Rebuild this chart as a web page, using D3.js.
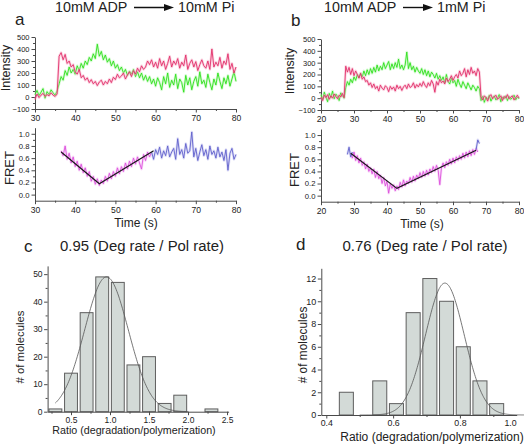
<!DOCTYPE html>
<html><head><meta charset="utf-8">
<script src="https://cdn.jsdelivr.net/npm/d3@7"></script>
<style>body{margin:0;background:#fff}svg{display:block;font-family:"Liberation Sans",Arial,sans-serif}</style>
</head><body><svg id="fig" width="524" height="446"></svg>
<script>
// ---------- DATA ----------
const step = 0.5;
// Panel a intensities, t = 30..80 s
const aStart = 30;
const aRed = [-20,25,-5,15,30,5,20,10,35,15,5,25,
340,370,310,355,280,300,250,270,210,190,230,160,
180,140,160,120,145,110,130,95,125,140,100,130,
110,150,120,165,145,190,160,175,200,150,185,210,
170,220,190,240,210,260,230,250,300,270,310,250,
290,240,320,260,300,230,280,340,250,300,270,320,
240,290,260,350,230,280,310,250,295,220,270,310,
260,240,300,230,400,250,290,260,330,240,300,270,
360,230,280,200,250];
const aGreen = [20,55,10,40,70,-10,45,20,60,35,15,50,
110,170,140,220,180,250,200,230,190,260,220,280,
240,300,270,330,300,360,320,440,340,380,310,350,
290,320,260,300,240,270,220,250,200,230,180,215,
190,230,170,210,160,200,140,180,130,170,110,150,
90,160,120,60,170,110,200,80,140,100,190,70,
150,120,40,180,100,160,60,130,170,90,210,110,
140,80,190,120,60,150,100,200,130,70,160,110,
180,90,150,210,130];
// Panel b intensities, t = 20..80 s
const bStart = 20;
const bRed = [10,-20,25,5,30,-10,20,0,35,15,-5,25,10,40,5,
270,220,260,200,250,190,230,200,170,210,160,180,140,150,110,130,
90,120,80,100,60,110,85,70,105,90,55,100,75,95,60,110,80,100,65,95,
110,80,120,90,100,130,85,115,95,125,100,140,110,90,130,105,150,120,50,140,
110,160,130,145,120,170,140,160,190,150,180,200,170,230,190,210,250,180,240,200,
260,210,230,190,250,220,
10,-15,20,5,-25,15,30,-5,10,25,-10,5,20,-20,15,0,30,-5,10,20,-15,5,25,0];
const bGreen = [30,-10,50,10,-30,40,5,60,-5,35,15,-20,45,20,0,
90,140,110,160,130,180,150,200,170,210,180,230,190,240,200,250,
210,260,220,280,230,270,240,300,250,280,310,240,290,250,300,260,330,250,280,240,
280,390,250,300,240,270,220,260,230,210,250,200,240,190,230,180,220,200,170,210,
160,190,150,180,130,200,140,120,170,130,150,100,160,120,90,140,110,80,130,100,
70,110,90,60,100,80,
-20,15,-35,10,-10,25,-25,5,20,-15,0,30,-30,10,-5,20,-20,15,-10,5,25,-15,10,-5];
// Panel a FRET
const aPinkStart = 36.5;
const aPink = [0.72,0.64,0.80,0.58,0.68,0.52,0.62,0.46,0.55,0.40,
0.50,0.36,0.44,0.30,0.38,0.22,0.30,0.17,0.26,0.15,
0.24,0.18,0.30,0.22,0.35,0.26,0.38,0.30,0.44,0.34,
0.46,0.38,0.52,0.42,0.55,0.46,0.60,0.50,0.62,0.52,
0.42,0.66,0.56,0.70,0.62,0.70];
const aBlueStart = 59;
const aBlue = [0.70,0.58,0.74,0.66,0.78,0.60,0.72,0.64,0.80,0.62,
0.70,0.76,0.58,0.92,0.66,0.74,0.60,0.84,0.68,0.72,
1.03,0.62,0.76,0.56,0.70,0.82,0.64,0.74,0.58,0.80,
0.66,0.72,0.60,0.78,0.62,0.70,0.56,0.74,0.40,0.68,
0.76,0.58,0.66];
const aFitT = [36.5, 46, 59.5];
const aFitV = [0.70, 0.18, 0.72];
// Panel b FRET
const bBlue1Start = 28;
const bBlue1 = [0.68,0.80,0.64,0.72];
const bPinkStart = 29;
const bPink = [0.70,0.62,0.72,0.58,0.66,0.54,0.62,0.50,0.56,0.44,
0.52,0.40,0.46,0.36,0.44,0.30,0.40,0.28,0.34,0.20,
0.30,0.16,0.24,0.04,0.20,0.12,0.18,0.08,0.16,0.10,
0.22,0.14,0.26,0.16,0.24,0.20,0.30,0.22,0.32,0.24,
0.34,0.28,0.38,0.30,0.40,0.32,0.42,0.34,0.44,0.38,
0.48,0.40,0.50,0.42,0.18,0.46,0.54,0.46,0.56,0.50,
0.60,0.52,0.62,0.54,0.64,0.58,0.66,0.60,0.70,0.62,
0.72,0.64,0.74,0.66,0.76,0.68,0.78,0.72];
const bBlue2Start = 67;
const bBlue2 = [0.76,0.92,0.86];
const bFitT = [29, 43, 67];
const bFitV = [0.70, 0.12, 0.75];
// Panel c histogram
const cCenters = [0.3,0.5,0.7,0.9,1.1,1.3,1.5,1.7,1.9,2.1,2.3];
const cCounts  = [1,14,36,49,47,17,20,3,6,0,1];
const cFitMean = 0.955, cFitSd = 0.28, cFitAmp = 49, cFitRange = [0.3, 2.0];
// Panel d histogram
const dCenters = [0.46,0.56,0.61,0.66,0.71,0.76,0.81,0.86,0.91];
const dCounts  = [2,3,1,9,12,10,6,3,1];
const dFitMean = 0.755, dFitSd = 0.058, dFitAmp = 11.6, dFitRange = [0.5, 1.02];
// Tick values
const intTicks = [-100,0,100,200,300,400,500];
const fretTicks = [0,0.2,0.4,0.6,0.8,1.0];
const aTimeTicks = [30,40,50,60,70,80];
const bTimeTicks = [20,30,40,50,60,70,80];
const cXTicks = [0.5,1.0,1.5,2.0,2.5];
const cYTicks = [0,10,20,30,40,50];
const dXTicks = [0.4,0.6,0.8];
const dYTicks = [0,2,4,6,8,10,12];

// ---------- HELPERS ----------
const svg = d3.select('#fig');
const AX = '#4a4a4a', TXT = '#222';
const pts = (start, arr) => arr.map((v,i)=>[start+i*step, v]);

function axes(x, y, o){
  const g = svg.append('g');
  const yb = y.range()[0], xl = x.range()[0];
  if (o.xMinor) g.append('g').attr('transform',`translate(0,${yb})`)
     .call(d3.axisBottom(x).tickValues(o.xMinor).tickSize(2).tickFormat('').tickSizeOuter(0))
     .call(s=>s.select('.domain').remove());
  if (o.yMinor) g.append('g').attr('transform',`translate(${xl},0)`)
     .call(d3.axisLeft(y).tickValues(o.yMinor).tickSize(2).tickFormat('').tickSizeOuter(0))
     .call(s=>s.select('.domain').remove());
  const gx = g.append('g').attr('transform',`translate(0,${yb})`)
     .call(d3.axisBottom(x).tickValues(o.xTicks).tickSize(3.5).tickPadding(o.xPad||2).tickSizeOuter(0).tickFormat(o.xFmt||null));
  gx.selectAll('text').style('font-size', o.xFont+'px').attr('fill',TXT);
  const gy = g.append('g').attr('transform',`translate(${xl},0)`)
     .call(d3.axisLeft(y).tickValues(o.yTicks).tickSize(3.5).tickPadding(o.yPad||2).tickSizeOuter(0).tickFormat(o.yFmt||null));
  gy.selectAll('text').style('font-size', o.yFont+'px').attr('fill',TXT);
  g.selectAll('.domain, .tick line').attr('stroke',AX);
  g.selectAll('text').attr('font-family','"Liberation Sans",Arial,sans-serif');
  return {g, gx, gy};
}
function trace(x, y, data, color, glow, w){
  const line = d3.line().x(d=>x(d[0])).y(d=>y(d[1]));
  svg.append('path').attr('d',line(data)).attr('fill','none').attr('stroke',glow).attr('stroke-width',2.6).attr('stroke-opacity',0.45).attr('stroke-linejoin','round');
  svg.append('path').attr('d',line(data)).attr('fill','none').attr('stroke',color).attr('stroke-width',w||0.9).attr('stroke-linejoin','round');
}
function text(x, y, s, size, opt={}){
  const t = svg.append('text').attr('x',x).attr('y',y).text(s)
    .attr('font-size',size).attr('fill',TXT).attr('text-anchor',opt.anchor||'middle');
  if (opt.rot) t.attr('transform',`rotate(-90,${x},${y})`);
  return t;
}
function arrowTitle(x1, x2, yy){
  svg.append('line').attr('x1',x1).attr('x2',x2-7).attr('y1',yy).attr('y2',yy).attr('stroke','#111').attr('stroke-width',1.4);
  svg.append('path').attr('d',`M${x2},${yy} L${x2-10},${yy-3.5} L${x2-10},${yy+3.5} Z`).attr('fill','#111');
}

const RED='#e2306a', REDG='#f3a0be', GRN='#2fe01c', GRNG='#a6f5a0';
const PINK='#dd50dd', PINKG='#f2b0f2', BLUE='#6060cc', BLUEG='#b8b8ee';

// ---------- PANEL a ----------
{
  const x = d3.scaleLinear().domain([30,80]).range([35,236]);
  const y = d3.scaleLinear().domain([-100,500]).range([109,37]);
  axes(x,y,{xTicks:aTimeTicks, xMinor:[35,45,55,65,75], yTicks:intTicks, yMinor:[-50,50,150,250,350,450],
            xFont:8.6, yFont:7.5, yFmt:d3.format('d'), xPad:2.5});
  trace(x,y,pts(aStart,aGreen),GRN,GRNG);
  trace(x,y,pts(aStart,aRed),RED,REDG);
  const yf = d3.scaleLinear().domain([-0.1,1.1]).range([200.7,127.7]);
  axes(x,yf,{xTicks:aTimeTicks, xMinor:[35,45,55,65,75], yTicks:fretTicks, yMinor:[0.1,0.3,0.5,0.7,0.9],
            xFont:8.6, yFont:7.7, yFmt:d3.format('.1f'), xPad:2.5});
  trace(x,yf,pts(aPinkStart,aPink),PINK,PINKG);
  trace(x,yf,pts(aBlueStart,aBlue),BLUE,BLUEG);
  svg.append('path').attr('d',d3.line().x(d=>x(d[0])).y(d=>yf(d[1]))(aFitT.map((t,i)=>[t,aFitV[i]])))
     .attr('fill','none').attr('stroke','#1a1a1a').attr('stroke-width',1.2);
  text(10,68,'Intensity',12.5,{rot:true});
  text(14,168,'FRET',13,{rot:true});
  text(136,227,'Time (s)',12);
  text(15,25,'a',17,{anchor:'start'});
  text(55,12,'10mM ADP',14.3,{anchor:'start'});
  arrowTitle(134,174,7.5);
  text(178,12,'10mM Pi',14.3,{anchor:'start'});
}
// ---------- PANEL b ----------
{
  const x = d3.scaleLinear().domain([20,80]).range([321,519]);
  const y = d3.scaleLinear().domain([-100,500]).range([110,39]);
  axes(x,y,{xTicks:bTimeTicks, xMinor:[25,35,45,55,65,75], yTicks:intTicks, yMinor:[-50,50,150,250,350,450],
            xFont:8.6, yFont:7.5, yFmt:d3.format('d'), xPad:2.5});
  trace(x,y,pts(bStart,bGreen),GRN,GRNG);
  trace(x,y,pts(bStart,bRed),RED,REDG);
  const yf = d3.scaleLinear().domain([-0.1,1.1]).range([201.7,129]);
  axes(x,yf,{xTicks:bTimeTicks, xMinor:[25,35,45,55,65,75], yTicks:fretTicks, yMinor:[0.1,0.3,0.5,0.7,0.9],
            xFont:8.6, yFont:7.7, yFmt:d3.format('.1f'), xPad:2.5});
  trace(x,yf,pts(bPinkStart,bPink),PINK,PINKG);
  trace(x,yf,pts(bBlue1Start,bBlue1),BLUE,BLUEG);
  trace(x,yf,pts(bBlue2Start,bBlue2),BLUE,BLUEG);
  svg.append('path').attr('d',d3.line().x(d=>x(d[0])).y(d=>yf(d[1]))(bFitT.map((t,i)=>[t,bFitV[i]])))
     .attr('fill','none').attr('stroke','#1a1a1a').attr('stroke-width',1.2);
  text(294,71,'Intensity',12.5,{rot:true});
  text(299,170,'FRET',13,{rot:true});
  text(422,228,'Time (s)',12);
  text(291,26,'b',17,{anchor:'start'});
  text(324,12,'10mM ADP',14.3,{anchor:'start'});
  arrowTitle(403,433,7.5);
  text(437,12,'1mM Pi',14.3,{anchor:'start'});
}
// ---------- PANEL c ----------
{
  const x = d3.scaleLinear().domain([0.2,2.52]).range([47.6,228.6]);
  const y = d3.scaleLinear().domain([0,53]).range([411.7,265.9]);
  const bw = 0.165;
  svg.append('g').selectAll('rect').data(cCenters.map((c,i)=>({c,v:cCounts[i]})).filter(d=>d.v>0)).join('rect')
    .attr('x',d=>x(d.c-bw/2)).attr('width',d=>x(d.c+bw/2)-x(d.c-bw/2))
    .attr('y',d=>y(d.v)).attr('height',d=>y(0)-y(d.v))
    .attr('fill','#d3dad7').attr('stroke','#5e5e5e').attr('stroke-width',1);
  const g = d3.range(cFitRange[0], cFitRange[1]+0.001, 0.01).map(v=>[v, cFitAmp*Math.exp(-((v-cFitMean)**2)/(2*cFitSd*cFitSd))]);
  svg.append('path').attr('d',d3.line().x(d=>x(d[0])).y(d=>y(d[1]))(g)).attr('fill','none').attr('stroke','#555').attr('stroke-width',0.8);
  axes(x,y,{xTicks:cXTicks, xMinor:[0.25,0.75,1.25,1.75,2.25], yTicks:cYTicks, yMinor:[5,15,25,35,45],
            xFont:8.5, yFont:8.5, xFmt:d3.format('.1f'), xPad:1.5, yPad:1.5});
  text(24,347,'# of molecules',11.3,{rot:true});
  text(134,434,'Ratio (degradation/polymerization)',10.7);
  text(24,252,'c',17,{anchor:'start'});
  text(142,251,'0.95 (Deg rate / Pol rate)',14.9);
}
// ---------- PANEL d ----------
{
  const x = d3.scaleLinear().domain([0.385,0.97]).range([321.3,516.7]);
  const y = d3.scaleLinear().domain([0,12.9]).range([415,268.3]);
  const bw = 0.042;
  svg.append('g').selectAll('rect').data(dCenters.map((c,i)=>({c,v:dCounts[i]}))).join('rect')
    .attr('x',d=>x(d.c-bw/2)).attr('width',d=>x(d.c+bw/2)-x(d.c-bw/2))
    .attr('y',d=>y(d.v)).attr('height',d=>y(0)-y(d.v))
    .attr('fill','#d3dad7').attr('stroke','#5e5e5e').attr('stroke-width',1);
  const g = d3.range(dFitRange[0], dFitRange[1]+0.0001, 0.002).map(v=>[v, dFitAmp*Math.exp(-((v-dFitMean)**2)/(2*dFitSd*dFitSd))]);
  svg.append('path').attr('d',d3.line().x(d=>x(d[0])).y(d=>y(d[1]))(g)).attr('fill','none').attr('stroke','#555').attr('stroke-width',0.8);
  const A = axes(x,y,{xTicks:dXTicks, xMinor:[0.5,0.7,0.9], yTicks:dYTicks, yMinor:[1,3,5,7,9,11],
            xFont:8.8, yFont:9, xFmt:d3.format('.1f'), xPad:1.5, yPad:1.5});
  A.gx.append('text').attr('x',x(0.97)).attr('y',5).attr('dy','0.71em').attr('text-anchor','end')
     .style('font-size','8.8px').attr('fill',TXT).attr('font-family','"Liberation Sans",Arial,sans-serif').text('1.0');
  text(307,345,'# of molecules',11.9,{rot:true});
  text(432,441,'Ratio (degradation/polymerization)',12);
  text(296,250,'d',17,{anchor:'start'});
  text(425,251,'0.76 (Deg rate / Pol rate)',15);
}
</script></body></html>
